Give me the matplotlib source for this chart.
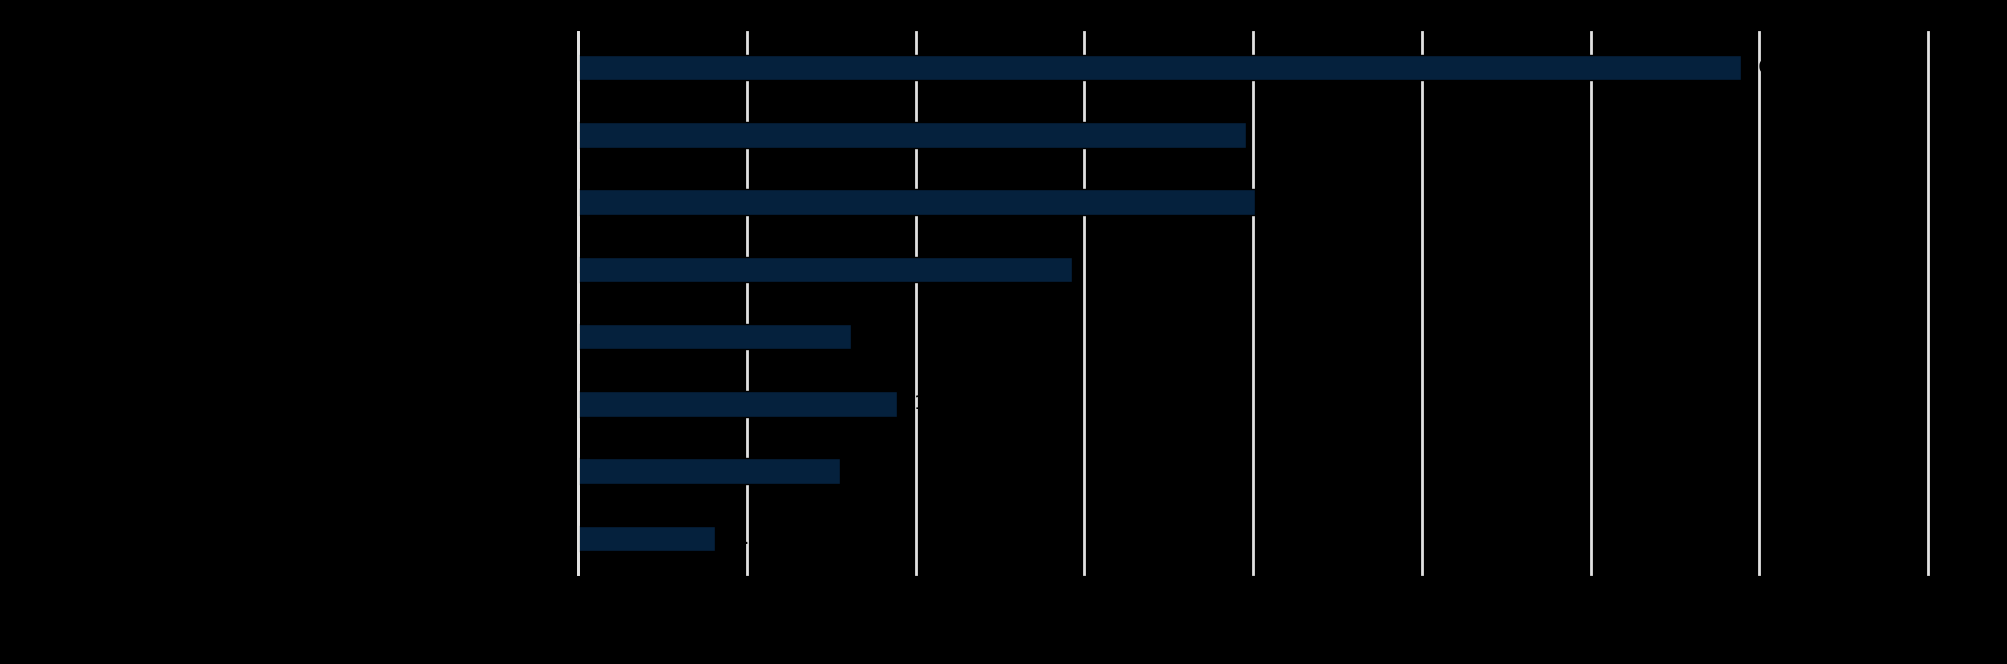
import matplotlib.pyplot as plt

# values, top bar first (gridline spacing = 1 unit)
values = [6.89, 3.96, 4.01, 2.93, 1.62, 1.89, 1.55, 0.81]
ranks = list(range(len(values)))
x_ticks = [0, 1, 2, 3, 4, 5, 6, 7, 8]

bar_color = '#05213d'
grid_color = '#e2e2e2'


def draw_chart(values):
    fig = plt.figure(figsize=(20.07, 6.64), dpi=100, facecolor='black')
    ax = fig.add_axes([578 / 2007, 1 - 574 / 664, (1928 - 578) / 2007, (574 - 32) / 664])
    ax.set_facecolor('black')

    ax.barh(ranks, values, height=0.38, color=bar_color, edgecolor='black',
            linewidth=1.0, zorder=2)

    # value labels: black on black, like in the reference
    for r, v in zip(ranks, values):
        ax.text(v + 0.1, r, f'{v:.1f}', va='center', ha='left', fontsize=14,
                color='black', zorder=3)

    ax.set_xlim(0, 8)
    ax.set_ylim(7.53, -0.53)
    ax.set_xticks(x_ticks)
    ax.set_xticklabels([str(t) for t in x_ticks], color='black', fontsize=14)
    ax.set_yticks([])
    ax.tick_params(axis='x', length=0)
    ax.grid(axis='x', color=grid_color, linewidth=2.0, zorder=1)
    ax.set_axisbelow(True)
    for gl in ax.get_xgridlines():
        gl.set_clip_on(False)
    for s in ax.spines.values():
        s.set_visible(False)
    # zero line runs over the bars
    ax.spines['left'].set_visible(True)
    ax.spines['left'].set_color(grid_color)
    ax.spines['left'].set_linewidth(2.0)
    ax.spines['left'].set_zorder(3)

    fig.savefig('out.png', dpi=100, facecolor='black')


if __name__ == '__main__':
    draw_chart(values)
